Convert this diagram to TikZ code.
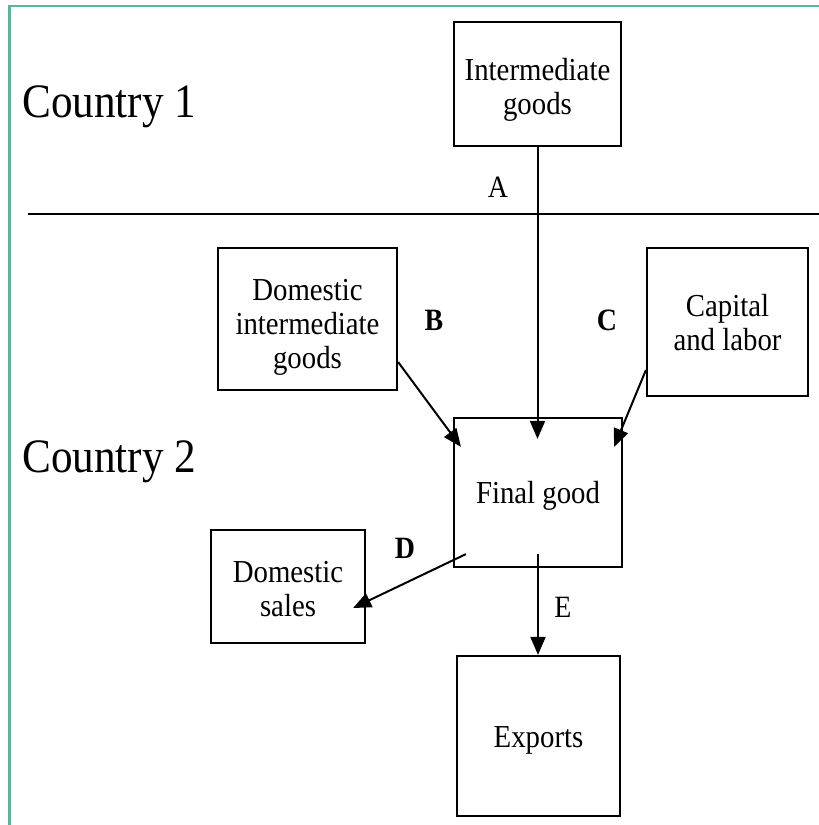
\documentclass[tikz,border=0pt]{standalone}
\usepackage{fontspec}
\setmainfont{Liberation Serif}[FakeStretch=0.9]
\usetikzlibrary{arrows.meta}
\definecolor{frameteal}{RGB}{78,186,160}
\tikzset{
  box/.style={draw, line width=2.2pt, inner sep=0pt},
  boxtext/.style={align=center, inner sep=0pt, font=\fontsize{32}{34}\selectfont},
  arr/.style={line width=2pt, -{Triangle[length=18pt,width=15pt]}},
  lbl/.style={font=\fontsize{31}{34}\selectfont, inner sep=0pt},
  country/.style={font=\fontsize{48}{50}\selectfont, inner sep=0pt, anchor=base west},
}
\begin{document}
\begin{tikzpicture}[x=1pt,y=-1pt]
\useasboundingbox (0,0) rectangle (819,825);
\fill[white] (0,0) rectangle (819,825);
% frame
\coordinate (ftr) at (819,6);
\coordinate (ftl) at (9.5,6);
\coordinate (fbl) at (9.5,825);
\draw[frameteal, line width=2.6pt] (ftr) -- (ftl) -- (fbl);
% separator
\coordinate (sepl) at (28,214);
\coordinate (sepr) at (819,214);
\draw[line width=2pt] (sepl) -- (sepr);
% country labels
\node[country] (c1) at (22,117) {Country 1};
\node[country] (c2) at (22,472) {Country 2};
% boxes
\node[box, minimum width=167pt, minimum height=124pt] (inter) at (537.5,84) {};
\node[box, minimum width=179pt, minimum height=142pt] (dom) at (307.5,319) {};
\node[box, minimum width=161pt, minimum height=148pt] (cap) at (727.5,322) {};
\node[box, minimum width=168pt, minimum height=149pt] (final) at (538,492.5) {};
\node[box, minimum width=154pt, minimum height=113pt] (sales) at (288,586.5) {};
\node[box, minimum width=163pt, minimum height=160pt] (exp) at (538.5,736) {};
% box texts
\node[boxtext] (intert) at ([yshift=-6pt]inter.center) {Intermediate\\goods};
\node[boxtext] (domt) at ([yshift=-8pt]dom.center) {Domestic\\intermediate\\goods};
\node[boxtext] (capt) at ([yshift=-1pt]cap.center) {Capital\\and labor};
\node[boxtext] (finalt) at ([yshift=-3pt]final.center) {Final good};
\node[boxtext] (salest) at ([yshift=-3pt]sales.center) {Domestic\\sales};
\node[boxtext] (expt) at ([yshift=-4pt]exp.center) {Exports};
% arrows
\draw[arr] (inter.south) -- ([yshift=-22pt]inter.south |- final.north);
\draw[arr] ([yshift=-43pt]dom.east) -- ([xshift=8pt,yshift=-30pt]final.north west);
\draw[arr] ([yshift=-48pt]cap.west) -- ([xshift=-9pt,yshift=-30pt]final.north east);
\draw[arr] ([xshift=13pt,yshift=14pt]final.south west) -- ([xshift=-13pt,yshift=-21.5pt]sales.east);
\draw[arr] ([yshift=14pt]final.south) -- (final.south |- exp.north);
% labels
\node[lbl] (la) at (498,187) {A};
\node[lbl] (lb) at (434,320) {\bfseries B};
\node[lbl] (lc) at (607,320) {\bfseries C};
\node[lbl] (ld) at (405,548) {\bfseries D};
\node[lbl] (le) at (563,607) {E};
\end{tikzpicture}
\end{document}
